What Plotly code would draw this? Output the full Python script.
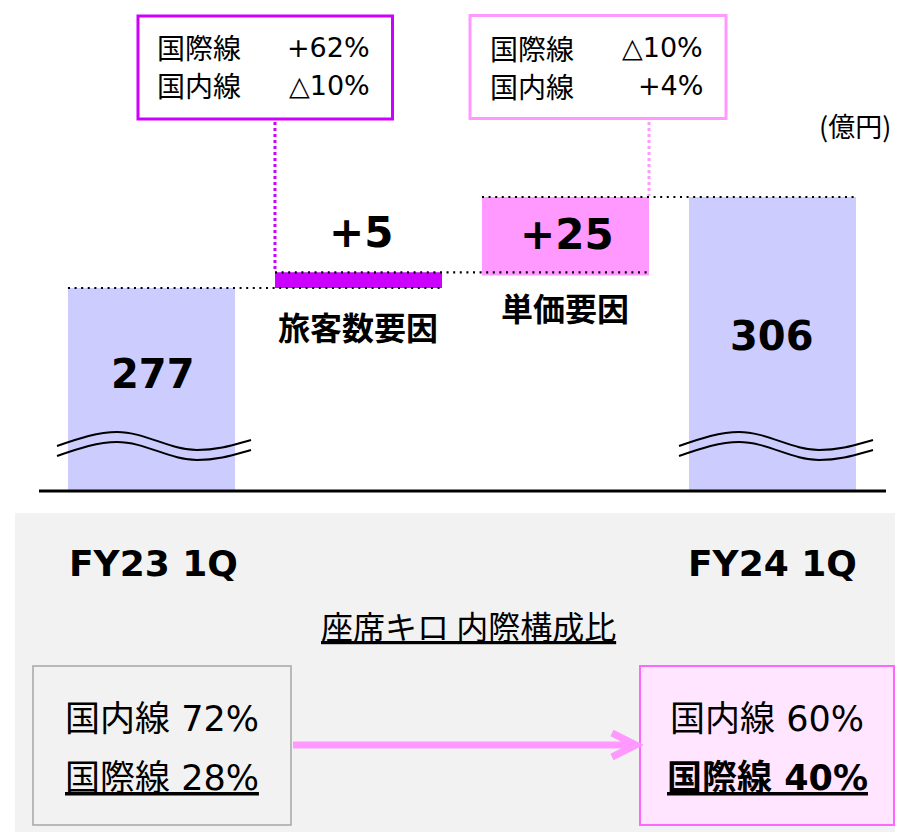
import plotly.graph_objects as go

# ---------------- data ----------------
categories = ["FY23 1Q", "旅客数要因", "単価要因", "FY24 1Q"]
start_value = 277
pax_delta = 5
price_delta = 25
end_value = 306
value_labels = ["277", "+5", "+25", "306"]
factor_labels = ["旅客数要因", "単価要因"]
unit_label = "(億円)"

pax_box_rows = [("国際線", "+62%"), ("国内線", "△10%")]
price_box_rows = [("国際線", "△10%"), ("国内線", "+4%")]

mix_title = "座席キロ 内際構成比"
mix_fy23 = [("国内線", "72%"), ("国際線", "28%")]
mix_fy24 = [("国内線", "60%"), ("国際線", "40%")]

AXIS_BREAK = 212.5  # value where the broken axis starts

# ---------------- styling ----------------
OFF = 8                      # page body margin of the html page
W, H = 903 - OFF, 832 - OFF  # figure size
LAV = "#CCCCFF"
PURPLE = "#CC00FF"
PINK = "#FF99FF"
MIX = "DejaVu Sans, Noto Sans CJK JP"
JP = "Noto Sans CJK JP"


def px(x):
    return (x - OFF) / W


def py(y):
    return 1 - (y - OFF) / H


xs = list(range(len(categories)))
BW = 0.807
HB = BW / 2

fig = go.Figure()
fig.add_trace(go.Bar(x=[xs[0], xs[3]], y=[start_value - AXIS_BREAK, end_value - AXIS_BREAK],
                     base=[AXIS_BREAK, AXIS_BREAK], width=BW, marker=dict(color=LAV, line=dict(width=0)),
                     hoverinfo="skip"))
fig.add_trace(go.Bar(x=[xs[1]], y=[pax_delta], base=[start_value], width=BW,
                     marker=dict(color=PURPLE, line=dict(width=0)), hoverinfo="skip"))
fig.add_trace(go.Bar(x=[xs[2]], y=[price_delta], base=[end_value - price_delta], width=BW,
                     marker=dict(color=PINK, line=dict(width=0)), hoverinfo="skip"))

shapes = []
# gray panel
shapes.append(dict(type="rect", xref="paper", yref="paper", x0=px(15), x1=px(903), y0=py(513), y1=py(832),
                   fillcolor="#F2F2F2", line=dict(width=0), layer="below"))
# baseline
shapes.append(dict(type="line", xref="paper", yref="paper", x0=px(39), x1=px(886), y0=py(491), y1=py(491),
                   line=dict(color="black", width=3)))
# dotted connectors
DOT = "2px,4.6px"
shapes.append(dict(type="line", xref="x", yref="y", x0=xs[0] - HB, x1=xs[1] + HB,
                   y0=start_value, y1=start_value, line=dict(color="black", width=2.2, dash=DOT)))
shapes.append(dict(type="line", xref="x", yref="y", x0=xs[1] - HB, x1=xs[2] + HB,
                   y0=start_value + pax_delta, y1=start_value + pax_delta,
                   line=dict(color="black", width=2.2, dash=DOT)))
shapes.append(dict(type="line", xref="x", yref="y", x0=xs[2] - HB, x1=xs[3] + HB,
                   y0=end_value, y1=end_value, line=dict(color="black", width=2.2, dash=DOT)))
# callout boxes
shapes.append(dict(type="rect", xref="paper", yref="paper", x0=px(138), x1=px(392.5), y0=py(16), y1=py(119),
                   fillcolor="white", line=dict(color=PURPLE, width=3)))
shapes.append(dict(type="rect", xref="paper", yref="paper", x0=px(470), x1=px(726), y0=py(15.5), y1=py(118.5),
                   fillcolor="white", line=dict(color=PINK, width=3)))
shapes.append(dict(type="line", xref="x", yref="paper", x0=xs[1] - HB, x1=xs[1] - HB, y0=py(122), y1=py(271),
                   line=dict(color=PURPLE, width=3, dash="3px,3px")))
shapes.append(dict(type="line", xref="x", yref="paper", x0=xs[2] + HB, x1=xs[2] + HB, y0=py(122), y1=py(196),
                   line=dict(color=PINK, width=3, dash="3px,3px")))


def path_px(segs):
    out = []
    for cmd, pts in segs:
        out.append(cmd + " " + " ".join(f"{px(a):.5f},{py(b):.5f}" for a, b in pts))
    return " ".join(out)


def wave(dx, dy):
    return path_px([
        ("M", [(57 + dx, 446 + dy)]),
        ("C", [(80 + dx, 438 + dy), (98 + dx, 432 + dy), (117 + dx, 432 + dy)]),
        ("C", [(145 + dx, 432 + dy), (170 + dx, 450 + dy), (197 + dx, 450 + dy)]),
        ("C", [(220 + dx, 450 + dy), (236 + dx, 444 + dy), (251 + dx, 440 + dy)]),
    ])


for dx in (0, 622):
    for dy in (0, 10):
        shapes.append(dict(type="path", xref="paper", yref="paper", path=wave(dx, dy),
                           line=dict(color="black", width=2)))

# bottom comparison boxes
shapes.append(dict(type="rect", xref="paper", yref="paper", x0=px(33), x1=px(291), y0=py(666), y1=py(825),
                   fillcolor="#F2F2F2", line=dict(color="#A6A6A6", width=1.5)))
shapes.append(dict(type="rect", xref="paper", yref="paper", x0=px(640), x1=px(894), y0=py(666), y1=py(825),
                   fillcolor="#FFE5FF", line=dict(color="#FF66FF", width=2)))
# arrow
shapes.append(dict(type="line", xref="paper", yref="paper", x0=px(293), x1=px(634), y0=py(745), y1=py(745),
                   line=dict(color=PINK, width=7)))
shapes.append(dict(type="path", xref="paper", yref="paper",
                   path=path_px([("M", [(612, 733)]), ("L", [(636, 745)]), ("L", [(612, 757)])]),
                   line=dict(color=PINK, width=7)))

anns = []


def ann(text, x, y, size, family=MIX, bold=False, xanchor="center"):
    anns.append(dict(text=text, x=px(x), y=py(y), xref="paper", yref="paper", showarrow=False,
                     xanchor=xanchor, yanchor="middle",
                     font=dict(size=size, family=family, color="black", weight="bold" if bold else "normal")))


# callout texts
for i, (k, v) in enumerate(pax_box_rows):
    ann(k, 155, 47 + 38 * i, 28, family=JP, xanchor="left")
    ann(v, 372, 47 + 38 * i, 27, xanchor="right")
for i, (k, v) in enumerate(price_box_rows):
    ann(k, 488, 48 + 38 * i, 28, family=JP, xanchor="left")
    ann(v, 705, 48 + 38 * i, 27, xanchor="right")

ann(unit_label, 893, 125, 27, family=JP, xanchor="right")

# bar value labels
ann(value_labels[0], 153, 374, 40, family="DejaVu Sans", bold=True)
ann(value_labels[1], 361, 232, 42, family="DejaVu Sans", bold=True)
ann(value_labels[2], 567, 234, 42, family="DejaVu Sans", bold=True)
ann(value_labels[3], 772, 336, 40, family="DejaVu Sans", bold=True)
ann(factor_labels[0], 358, 326, 32, family=JP, bold=True)
ann(factor_labels[1], 565, 307, 32, family=JP, bold=True)

# period labels
ann(categories[0], 153, 563, 36, family="DejaVu Sans", bold=True)
ann(categories[3], 772, 563, 36, family="DejaVu Sans", bold=True)

ann("<u>" + mix_title + "</u>", 469, 625, 32, family=JP)

ann(f"{mix_fy23[0][0]} {mix_fy23[0][1]}", 162, 719, 35)
ann(f"<u>{mix_fy23[1][0]} {mix_fy23[1][1]}</u>", 162, 778, 35)
ann(f"{mix_fy24[0][0]} {mix_fy24[0][1]}", 767, 719, 35)
ann(f"<u><b>{mix_fy24[1][0]} {mix_fy24[1][1]}</b></u>", 767, 778, 35)

y_top = 368.78 - OFF / 3.138
fig.update_layout(
    width=W, height=H, margin=dict(l=0, r=0, t=0, b=0),
    paper_bgcolor="white", plot_bgcolor="white",
    showlegend=False, barmode="overlay", hovermode=False,
    xaxis=dict(domain=[px(48), px(876)], range=[-0.5, 3.5], visible=False, fixedrange=True),
    yaxis=dict(domain=[0, 1], range=[103.64, y_top], visible=False, fixedrange=True),
    shapes=shapes, annotations=anns,
)

fig.write_html("out.html")
